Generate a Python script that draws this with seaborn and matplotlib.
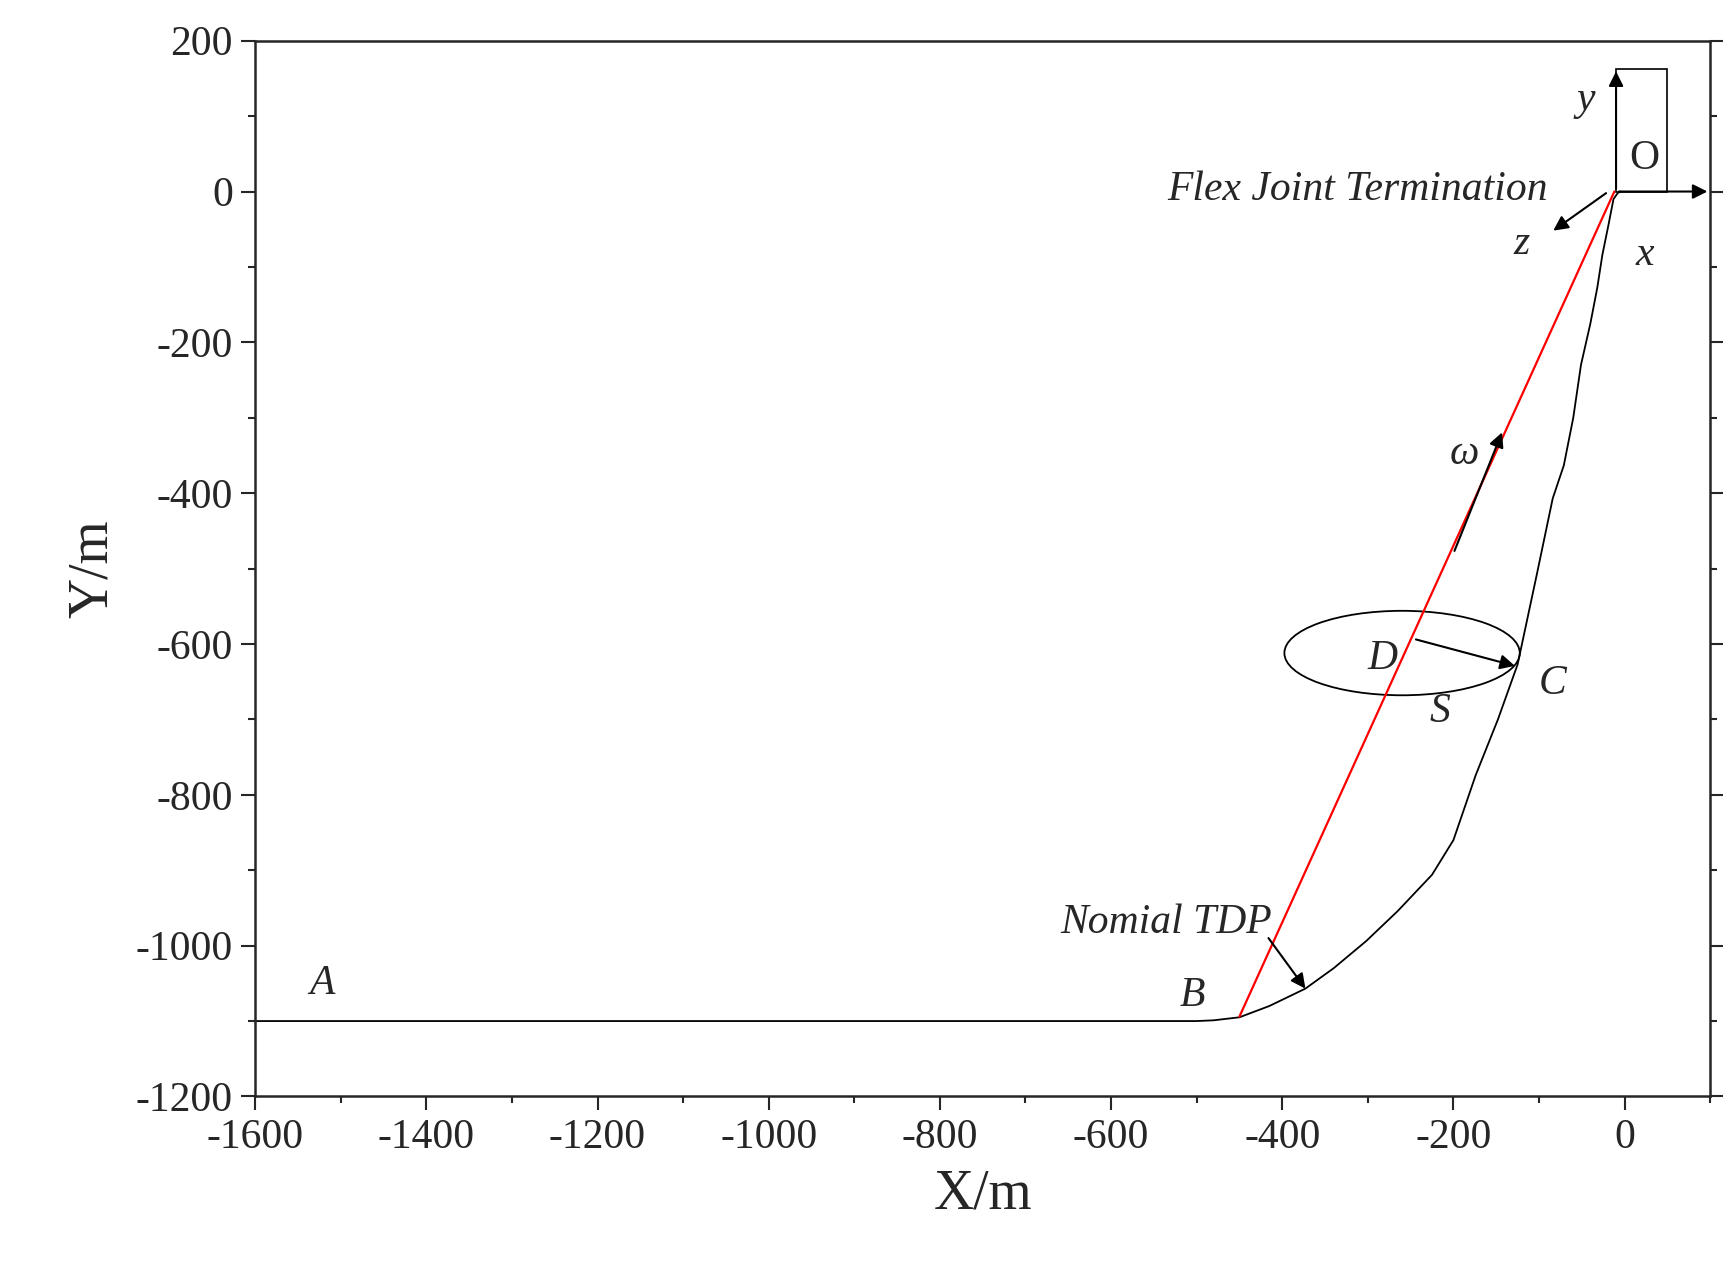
import matplotlib
matplotlib.use("Agg")
import matplotlib.pyplot as plt
import seaborn as sns
import pandas as pd
from matplotlib.patches import Ellipse, Rectangle

# riser profile
riser_x = [-1600, -500, -480, -450, -415, -373, -340, -302, -265, -225, -200, -174, -148,
           -125, -103, -84, -71, -60, -51, -40, -32, -26, -19, -13, -8, -5]
riser_y = [-1100, -1100, -1099, -1095, -1080, -1057, -1030, -994, -954, -906, -860, -774, -700,
           -627, -510, -407, -363, -300, -230, -175, -128, -84, -45, -10, -2, 0]
chord_x = [-450, -12]
chord_y = [-1094, 0]

sns.set_style("white")
plt.rcParams['font.family'] = ['Liberation Serif', 'DejaVu Serif']
plt.rcParams['axes.unicode_minus'] = False

fig = plt.figure(figsize=(17.24, 12.72), dpi=100)
ax = fig.add_axes([0.148, 0.138, 0.844, 0.830])

df = pd.DataFrame({'x': riser_x, 'y': riser_y})
sns.lineplot(data=df, x='x', y='y', sort=False, color='black', lw=1.3, ax=ax)
sns.lineplot(x=chord_x, y=chord_y, sort=False, color='red', lw=1.6, ax=ax)

ax.add_patch(Ellipse((-260, -612), 275, 112, fill=False, lw=1.3, color='black'))
ax.add_patch(Rectangle((-10, 0), 59, 162, fill=False, lw=1.2, color='black'))

arr = dict(arrowstyle='-|>', color='black', lw=1.5, mutation_scale=22)
for (x0, y0), (x1, y1) in [((-247, -593), (-125, -630)),
                           ((-200, -480), (-142, -316)),
                           ((-418, -987), (-371, -1060)),
                           ((-10, 0), (-10, 163)),
                           ((-10, 0), (100, 0)),
                           ((-19, 0), (-86, -54))]:
    ax.annotate('', xy=(x1, y1), xytext=(x0, y0), arrowprops=arr, annotation_clip=False)

fs = 30
for t, x, y in [('A', -1522, -1050), ('B', -505, -1067), ('C', -84, -653),
                ('D', -283, -620), ('S', -216, -690), ('ω', -187, -348),
                ('y', -45, 122), ('x', 23, -84), ('z', -120, -69)]:
    ax.text(x, y, t, fontsize=fs, style='italic', ha='center', va='center')
ax.text(23, 44, 'O', fontsize=fs, ha='center', va='center')
ax.text(-90, 2, 'Flex Joint Termination', fontsize=fs, style='italic', ha='right', va='center')
ax.text(-412, -969, 'Nomial TDP', fontsize=fs, style='italic', ha='right', va='center')

ax.set_xlim(-1600, 100)
ax.set_ylim(-1200, 200)
ax.set_xticks(range(-1600, 1, 200))
ax.set_yticks(range(-1200, 201, 200))
ax.set_xticks(range(-1500, 101, 200), minor=True)
ax.set_yticks(range(-1100, 201, 200), minor=True)
ax.tick_params(which='major', direction='out', length=10, width=1.5, labelsize=30,
               bottom=True, left=True, right=True, pad=6)
ax.tick_params(which='minor', direction='out', length=5, width=1.5,
               bottom=True, left=True, right=True)
ax.tick_params(axis='y', which='both', labelright=False)
for s in ax.spines.values():
    s.set_linewidth(1.8)
ax.set_xlabel('X/m', fontsize=40, labelpad=8)
ax.set_ylabel('Y/m', fontsize=40, labelpad=12)

fig.savefig('out.png', dpi=100)
